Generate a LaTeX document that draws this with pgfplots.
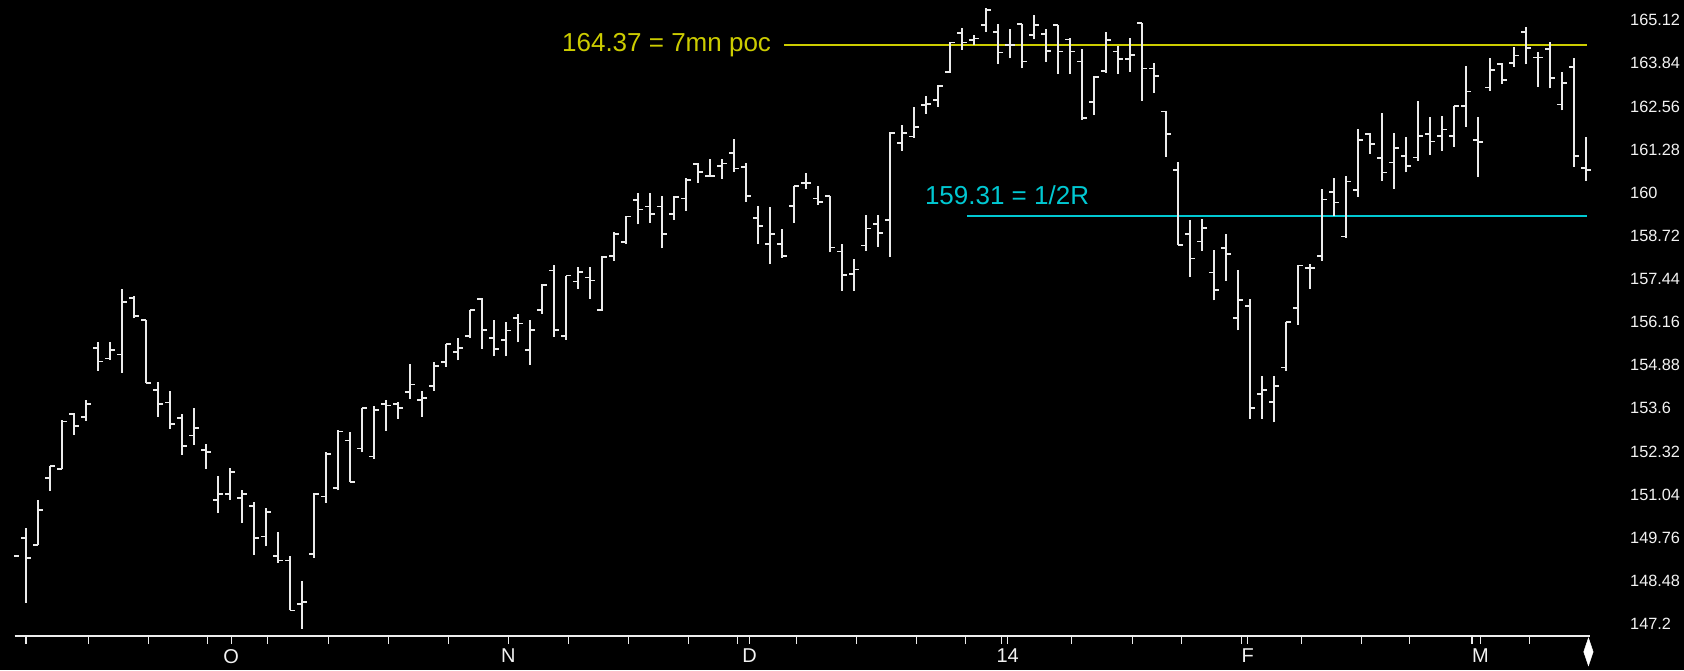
\documentclass[border=0pt]{standalone}
\usepackage{fontspec}
\setmainfont{Liberation Sans}
\usepackage{pgfplots}
\usepackage{pgfplotstable}
\pgfplotsset{compat=1.18}

\definecolor{ylw}{RGB}{204,204,0}
\definecolor{cyn}{RGB}{0,200,210}
\definecolor{barw}{RGB}{235,235,235}

% bar index, open, high, low, close
\pgfplotstableread{
i o h l c
-1 149.22 149.22 149.22 149.22
0 149.74 150.04 147.82 149.15
1 149.55 150.88 149.55 150.59
2 151.52 151.89 151.15 151.89
3 151.80 153.26 151.80 153.21
4 153.42 153.47 152.81 153.08
5 153.35 153.85 153.23 153.72
6 155.38 155.58 154.72 154.99
7 155.08 155.58 155.04 155.33
8 155.20 157.13 154.66 156.75
9 156.87 156.94 156.27 156.34
10 156.22 156.22 154.36 154.36
11 154.15 154.39 153.35 153.72
12 153.77 154.10 152.99 153.13
13 153.32 153.42 152.22 152.49
14 152.79 153.62 152.51 153.01
15 152.37 152.54 151.80 152.30
16 150.88 151.60 150.49 151.05
17 151.05 151.84 150.88 151.70
18 150.93 151.18 150.19 151.05
19 150.70 150.83 149.25 149.74
20 149.79 150.63 149.50 150.52
21 149.21 149.94 149.02 149.08
22 149.08 149.22 147.60 147.60
23 147.80 148.46 147.05 147.84
24 149.28 151.08 149.15 151.05
25 150.98 152.29 150.80 152.25
26 151.23 152.96 151.16 152.91
27 152.64 152.91 151.41 151.41
28 152.41 153.62 152.29 153.60
29 152.17 153.67 152.10 153.55
30 153.73 153.85 152.94 153.68
31 153.73 153.78 153.29 153.60
32 154.08 154.92 153.88 154.31
33 153.85 154.10 153.35 153.91
34 154.26 154.98 154.12 154.86
35 154.97 155.50 154.84 155.50
36 155.28 155.68 155.02 155.38
37 155.75 156.52 155.68 156.52
38 156.84 156.87 155.36 155.93
39 155.68 156.22 155.14 155.35
40 155.63 156.17 155.14 155.91
41 156.27 156.40 155.56 156.12
42 155.33 156.22 154.89 155.93
43 156.52 157.29 156.40 157.26
44 157.69 157.84 155.73 155.93
45 155.75 157.54 155.63 157.54
46 157.36 157.79 157.14 157.64
47 157.48 157.78 156.85 157.39
48 156.52 158.13 156.50 158.10
49 158.13 158.82 157.98 158.78
50 158.53 159.31 158.47 159.29
51 159.78 159.98 159.06 159.50
52 159.59 159.98 159.11 159.36
53 159.59 159.90 158.35 158.77
54 159.36 159.90 159.19 159.88
55 159.83 160.43 159.47 160.38
56 160.85 160.87 160.30 160.61
57 160.50 160.99 160.48 160.50
58 160.80 160.99 160.41 160.87
59 161.17 161.59 160.61 160.72
60 160.77 160.87 159.73 159.90
61 159.24 159.61 158.47 159.01
62 158.48 159.57 157.88 158.78
63 158.48 158.91 158.07 158.13
64 159.61 160.20 159.11 160.20
65 160.28 160.58 160.11 160.28
66 159.83 160.20 159.64 159.72
67 159.91 159.91 158.23 158.37
68 158.25 158.47 157.09 157.56
69 157.58 158.03 157.09 157.72
70 158.43 159.34 158.28 158.94
71 159.07 159.34 158.40 158.80
72 159.19 161.81 158.10 161.78
73 161.47 162.01 161.25 161.78
74 161.67 162.54 161.62 161.96
75 162.60 162.87 162.34 162.63
76 162.75 163.20 162.55 163.17
77 163.59 164.48 163.56 164.46
78 164.75 164.88 164.24 164.46
79 164.53 164.68 164.38 164.58
80 164.98 165.47 164.78 165.42
81 164.78 165.01 163.82 164.16
82 164.38 164.85 163.99 164.38
83 165.01 165.01 163.69 163.89
84 164.68 165.27 164.55 164.98
85 164.72 164.85 163.89 164.20
86 164.98 164.98 163.52 164.19
87 164.55 164.60 163.52 164.19
88 163.89 164.26 162.16 162.21
89 162.70 163.45 162.31 163.43
90 163.61 164.78 163.56 164.53
91 164.19 164.34 163.52 163.96
92 163.96 164.60 163.59 164.09
93 165.03 165.03 162.73 163.69
94 163.69 163.86 162.97 163.46
95 162.41 162.41 161.07 161.74
96 160.68 160.92 158.45 158.45
97 158.77 159.19 157.51 158.05
98 158.55 159.21 158.28 158.96
99 157.63 158.30 156.80 157.11
100 158.35 158.78 157.39 158.18
101 156.27 157.71 155.91 156.82
102 156.64 156.84 153.29 153.60
103 154.02 154.57 153.29 154.15
104 153.78 154.57 153.18 154.27
105 154.81 156.17 154.72 156.17
106 156.57 157.84 156.08 157.84
107 157.76 157.89 157.14 157.76
108 158.13 160.10 157.98 159.80
109 160.03 160.45 159.31 159.71
110 158.70 160.50 158.65 160.33
111 160.08 161.88 159.88 161.57
112 161.74 161.76 161.15 161.45
113 161.03 162.36 160.35 160.60
114 160.90 161.76 160.12 161.33
115 161.09 161.64 160.60 160.80
116 161.04 162.72 160.94 161.68
117 161.74 162.24 161.12 161.52
118 161.69 162.29 161.25 161.88
119 161.68 162.57 161.37 162.57
120 162.57 163.77 161.96 163.00
121 161.56 162.24 160.48 161.50
122 163.12 164.01 163.03 163.64
123 163.82 163.84 163.23 163.35
124 163.84 164.33 163.74 164.07
125 164.78 164.91 163.81 164.30
126 164.01 164.19 163.15 164.01
127 164.26 164.48 163.10 163.40
128 162.62 163.59 162.44 163.25
129 163.74 164.01 160.77 161.09
130 160.74 161.64 160.35 160.68
}\ohlc

\begin{document}
\begin{tikzpicture}
\path[use as bounding box] (0,0) rectangle (1684pt,670pt);
\fill[black] (0,0) rectangle (1684pt,670pt);
\begin{axis}[
  at={(14.6pt,34pt)}, anchor=south west,
  scale only axis, width=1575.4pt, height=636pt,
  xmin=-0.95, xmax=130.33, ymin=146.84, ymax=165.72,
  axis x line*=bottom, axis y line*=right,
  x axis line style={white!85!gray, line width=2pt},
  y axis line style={draw=none},
  tick align=outside, major tick length=8pt,
  xtick={0,5.2,10.2,15.1,20.1,25.2,30.2,35.2,40.2,45.2,50.2,55.2,59.3,64.2,69.2,74.2,78.3,81.3,87.1,92.2,96.3,101.3,106.3,111.3,115.3,120.5,125.3},
  xticklabels={},
  extra x ticks={17.1,40.2,60.3,81.8,101.8,121.2},
  extra x tick labels={O,N,D,14,F,M},
  extra x tick style={xticklabel style={font=\fontsize{20}{22}\selectfont, text=white!90!gray, inner sep=0pt, anchor=north}},
  xticklabel shift=5pt,
  xtick style={white!85!gray, line width=1.3pt},
  ytick={147.2,148.48,149.76,151.04,152.32,153.6,154.88,156.16,157.44,158.72,160,161.28,162.56,163.84,165.12},
  yticklabels={147.2,148.48,149.76,151.04,152.32,153.6,154.88,156.16,157.44,158.72,160,161.28,162.56,163.84,165.12},
  ytick style={draw=none},
  yticklabel style={font=\fontsize{16.3}{18}\selectfont, text=white!90!gray, anchor=west, inner sep=0pt, xshift=32pt},
  clip=false,
]
  % level lines
  \addplot[ylw, line width=2pt] coordinates {(63.2,164.37) (130.1,164.37)};
  \addplot[cyn, line width=2pt] coordinates {(78.4,159.31) (130.1,159.31)};
  % OHLC bars: range, open tick, close tick (first row is a bar cut by the left edge: close tick only)
  \addplot[barw, line width=1.7pt, skip coords between index={0}{1}, quiver={u=0, v=\thisrow{h}-\thisrow{l}}] table[x=i, y=l] {\ohlc};
  \addplot[barw, line width=1.7pt, skip coords between index={0}{1}, quiver={u=-0.45, v=0}] table[x=i, y=o] {\ohlc};
  \addplot[barw, line width=1.7pt, quiver={u=0.45, v=0}] table[x=i, y=c] {\ohlc};
  % current bar marker
  \addplot[only marks, mark=diamond*, mark size=14pt, mark options={white, xscale=0.45}] coordinates {(130.2,146.37)};
  \node[ylw, anchor=east, font=\fontsize{26}{30}\selectfont, inner sep=0pt] at (axis cs:62.1,164.37) {164.37 = 7mn poc};
  \node[cyn, anchor=west, font=\fontsize{26}{30}\selectfont, inner sep=0pt] at (axis cs:74.9,159.93) {159.31 = 1/2R};
\end{axis}
\end{tikzpicture}
\end{document}
